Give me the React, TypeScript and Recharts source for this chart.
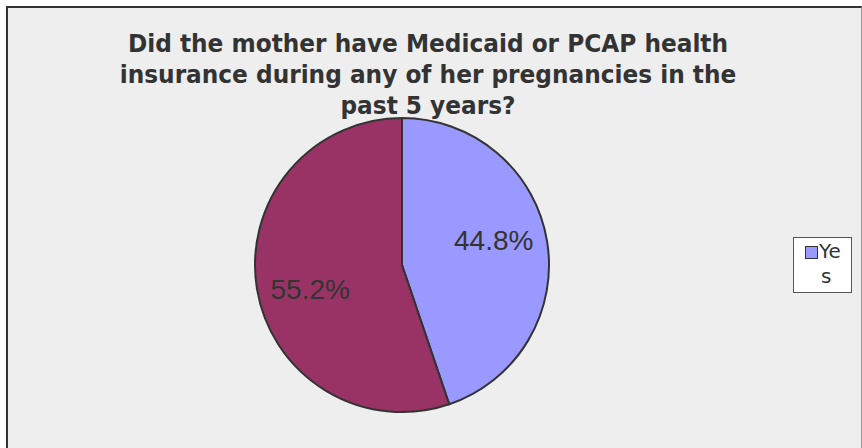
import React from 'react'
import { PieChart, Pie, Cell, Legend } from 'recharts'

const titleLines = [
  'Did the mother have Medicaid or PCAP health',
  'insurance during any of her pregnancies in the',
  'past 5 years?',
]
const categories = ['Yes', 'No']
const shares = [44.8, 55.2]
const colors = ['#9999FF', '#993366']

const data = categories.map((name, i) => ({ name, value: shares[i] }))

const RAD = Math.PI / 180

const renderLabel = (props: any) => {
  const { cx, cy, midAngle, value } = props
  const x = cx + 93 * Math.cos(-midAngle * RAD)
  const y = cy + 150 * Math.sin(-midAngle * RAD)
  return (
    <text
      x={x}
      y={y}
      textAnchor="middle"
      dominantBaseline="central"
      fill="#333333"
      fontSize={28}
      fontFamily="'Liberation Sans', Arial, sans-serif"
    >
      {value.toFixed(1)}%
    </text>
  )
}

// only the first entry fits in the legend box, the label wraps
const renderLegend = (props: any) => {
  const items = props.payload || []
  const item = items.find((p: any) => p.value === categories[0]) || items[0]
  if (!item) return null
  const label = String(item.value)
  return (
    <div
      style={{
        width: 59,
        height: 56,
        background: '#ffffff',
        border: '1px solid #555555',
        boxSizing: 'border-box',
        fontFamily: "'DejaVu Sans', sans-serif",
        fontSize: 20,
        color: '#333333',
        position: 'relative',
      }}
    >
      <span
        style={{
          position: 'absolute',
          left: 11,
          top: 8,
          width: 11,
          height: 11,
          background: colors[0],
          border: '1px solid #333333',
        }}
      />
      <span style={{ position: 'absolute', left: 25, top: 1, lineHeight: '24px' }}>
        {label.slice(0, 2)}
      </span>
      <span style={{ position: 'absolute', left: 27, top: 26, lineHeight: '24px' }}>
        {label.slice(2)}
      </span>
    </div>
  )
}

export default function App() {
  return (
    <div
      style={{
        position: 'absolute',
        left: 6,
        top: 6,
        width: 853,
        height: 450,
        background: '#EEEEEE',
        borderLeft: '2px solid #333333',
        borderTop: '2px solid #333333',
        borderRight: '1px solid #999999',
      }}
    >
      <div
        style={{
          position: 'absolute',
          left: 0,
          top: 20,
          width: 840,
          textAlign: 'center',
          fontFamily: "'DejaVu Sans', sans-serif",
          fontWeight: 'bold',
          fontSize: 25,
          lineHeight: '31px',
          color: '#333333',
          transform: 'scaleX(0.93)',
          transformOrigin: '420px 0',
        }}
      >
        {titleLines.map((t) => (
          <div key={t}>{t}</div>
        ))}
      </div>
      <PieChart width={853} height={440} style={{ position: 'absolute', left: 0, top: 0 }}>
        <Pie
          data={data}
          dataKey="value"
          nameKey="name"
          cx={389}
          cy={252}
          outerRadius={147}
          startAngle={90}
          endAngle={-270}
          stroke="#333333"
          strokeWidth={2}
          label={renderLabel}
          labelLine={false}
          isAnimationActive={false}
        >
          {data.map((d, i) => (
            <Cell key={d.name} fill={colors[i]} />
          ))}
        </Pie>
        <Legend
          content={renderLegend}
          layout="vertical"
          wrapperStyle={{ position: 'absolute', left: 785, top: 229, width: 59, height: 56 }}
        />
      </PieChart>
    </div>
  )
}
